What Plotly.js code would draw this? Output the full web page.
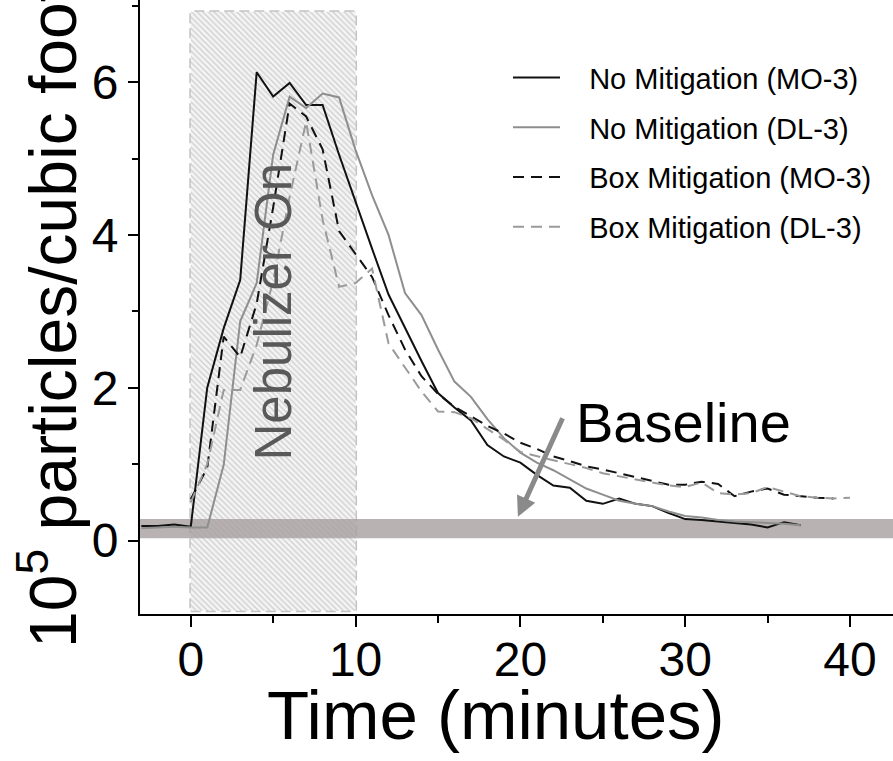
<!DOCTYPE html>
<html>
<head>
<meta charset="utf-8">
<script src="https://cdn.plot.ly/plotly-3.0.1.min.js"></script>
<style>html,body{margin:0;padding:0;background:#fff;}#chart{width:893px;height:761px;}</style>
</head>
<body>
<div id="chart"></div>
<script>
// ---- data ----
const minutesNoMit = [-3,-2,-1,0,1,2,3,4,5,6,7,8,9,10,11,12,13,14,15,16,17,18,19,20,21,22,23,24,25,26,27,28,29,30,31,32,33,34,35,36,37];
const noMitigationMO3 = [0.19,0.19,0.21,0.18,2.0,2.78,3.41,6.13,5.81,5.99,5.70,5.70,5.05,4.42,3.82,3.22,2.78,2.35,1.93,1.74,1.57,1.25,1.10,1.02,0.86,0.72,0.69,0.52,0.48,0.55,0.48,0.45,0.36,0.28,0.27,0.25,0.23,0.21,0.17,0.24,0.20];
const noMitigationDL3 = [0.16,0.17,0.18,0.17,0.17,0.99,2.87,3.37,5.05,5.81,5.66,5.85,5.80,5.11,4.52,4.00,3.24,2.95,2.50,2.08,1.88,1.59,1.34,1.15,1.02,0.92,0.80,0.68,0.60,0.52,0.48,0.45,0.38,0.32,0.30,0.27,0.25,0.24,0.23,0.22,0.20];

const minutesBoxMO = [0,1,2,3,4,5,6,7,8,9,10,11,12,13,14,15,16,17,18,19,20,21,22,23,24,25,26,27,28,29,30,31,32,33,34,35,36,37,38,39];
const boxMitigationMO3 = [0.54,0.95,2.67,2.40,3.10,4.36,5.72,5.55,5.12,4.05,3.75,3.45,2.95,2.50,2.15,1.92,1.75,1.62,1.50,1.40,1.28,1.20,1.10,1.04,0.97,0.93,0.88,0.83,0.77,0.73,0.73,0.77,0.74,0.58,0.64,0.68,0.60,0.58,0.56,0.55];

const minutesBoxDL = [0,1,2,3,4,5,6,7,8,9,10,11,12,13,14,15,16,17,18,19,20,21,22,23,24,25,26,27,28,29,30,31,32,33,34,35,36,37,38,39,40];
const boxMitigationDL3 = [0.50,1.00,1.97,1.97,2.56,3.40,4.50,5.48,4.20,3.32,3.37,3.56,2.58,2.27,1.95,1.69,1.68,1.60,1.46,1.32,1.16,1.10,1.05,1.00,0.95,0.88,0.84,0.80,0.76,0.72,0.70,0.76,0.62,0.60,0.62,0.70,0.64,0.58,0.56,0.55,0.56];

const seriesNames = ['No Mitigation (MO-3)','No Mitigation (DL-3)','Box Mitigation (MO-3)','Box Mitigation (DL-3)'];
const nebulizerOn = [0, 10];          // minutes
const baselineBand = [0.03, 0.28];    // 10^5 particles / ft^3
const xTickVals = [0,10,20,30,40];
const yTickVals = [0,2,4,6];

// ---- styling ----
const FONT = 'Liberation Sans, Arial, Helvetica, sans-serif';
const boxTop = 6.92, boxBottom = -0.92;
const xLo = -3.08, xHi = 42.61;
const PAD = '\u00a0\u00a0\u00a0';   // gap between legend sample and label

const hatch = {
  x: [nebulizerOn[0], nebulizerOn[1], nebulizerOn[1], nebulizerOn[0], nebulizerOn[0]],
  y: [boxBottom, boxBottom, boxTop, boxTop, boxBottom],
  mode: 'lines', fill: 'toself', line: {width: 0, color: 'rgba(0,0,0,0)'},
  fillcolor: '#f3f3f3',
  fillpattern: {shape: '\\', size: 4, solidity: 0.3, fgcolor: '#cdcdcd', bgcolor: '#f4f4f4'},
  hoverinfo: 'skip', showlegend: false
};

const band = {
  x: [xLo, xHi, xHi, xLo, xLo],
  y: [baselineBand[0], baselineBand[0], baselineBand[1], baselineBand[1], baselineBand[0]],
  mode: 'lines', fill: 'toself', line: {width: 0, color: 'rgba(0,0,0,0)'},
  fillcolor: 'rgba(166,159,159,0.8)', hoverinfo: 'skip', showlegend: false
};

const traces = [
  hatch,
  band,
  {x: minutesNoMit, y: noMitigationMO3, name: PAD + seriesNames[0], legendgroup: 'a', mode: 'lines',
   line: {color: '#111111', width: 2}},
  {x: minutesNoMit, y: noMitigationDL3, name: PAD + seriesNames[1], legendgroup: 'b', mode: 'lines',
   line: {color: '#8e8e8e', width: 2}},
  {x: minutesBoxMO, y: boxMitigationMO3, name: PAD + seriesNames[2], legendgroup: 'c', mode: 'lines',
   line: {color: '#111111', width: 2, dash: '11px,7px'}},
  {x: minutesBoxDL, y: boxMitigationDL3, name: PAD + seriesNames[3], legendgroup: 'd', mode: 'lines',
   line: {color: '#9a9a9a', width: 2, dash: '11px,7px'}}
];

const layout = {
  width: 893, height: 761,
  margin: {l: 140, r: 0, t: 0, b: 147, pad: 0},
  paper_bgcolor: '#ffffff', plot_bgcolor: '#ffffff',
  font: {family: FONT, color: '#000'},
  showlegend: true,
  legend: {x: 0.4887, xanchor: 'left', y: 0.915, yanchor: 'top', bgcolor: 'rgba(0,0,0,0)', itemwidth: 47,
           font: {family: FONT, size: 29, color: '#000'}, traceorder: 'grouped', tracegroupgap: 9},
  xaxis: {range: [xLo, xHi], showgrid: false, zeroline: false, showline: true, linecolor: '#000', linewidth: 2,
          ticks: 'outside', ticklen: 11, tickwidth: 2, tickcolor: '#000', tickvals: xTickVals, ticklabelstandoff: -9,
          tickfont: {family: FONT, size: 48, color: '#000'},
          minor: {dtick: 5, ticks: 'outside', ticklen: 7, tickwidth: 2, tickcolor: '#000', showgrid: false}},
  yaxis: {range: [-0.962, 7.075], showgrid: false, zeroline: false, showline: true, linecolor: '#000', linewidth: 2,
          ticks: 'outside', ticklen: 10, tickwidth: 2, tickcolor: '#000', tickvals: yTickVals,
          tickfont: {family: FONT, size: 48, color: '#000'},
          minor: {dtick: 1, ticks: 'outside', ticklen: 6, tickwidth: 2, tickcolor: '#000', showgrid: false}},
  shapes: [
    {type: 'rect', layer: 'below', xref: 'x', yref: 'y', x0: nebulizerOn[0], x1: nebulizerOn[1], y0: boxBottom, y1: boxTop,
     fillcolor: 'rgba(0,0,0,0)', line: {color: '#c4c4c4', width: 3, dash: '10px,5px'}}
  ],
  annotations: [
    {xref: 'paper', yref: 'paper', x: 0.4728, y: -0.166, xanchor: 'center', yanchor: 'middle', showarrow: false,
     text: 'Time (minutes)', font: {family: FONT, size: 69, color: '#000'}},
    {xref: 'paper', yref: 'paper', x: -0.1222, y: -0.0586, xanchor: 'center', yanchor: 'bottom', showarrow: false,
     textangle: -90, text: '10<sup>5</sup> particles/cubic foot', font: {family: FONT, size: 66, color: '#000'}},
    {xref: 'x', yref: 'y', x: 5.0, y: 3.0, showarrow: false, textangle: -90,
     text: 'Nebulizer On', font: {family: FONT, size: 51, color: '#595959'}},
    {xref: 'x', yref: 'y', x: 29.9, y: 1.55, showarrow: false,
     text: 'Baseline', font: {family: FONT, size: 56, color: '#000'}},
    {xref: 'x', yref: 'y', x: 19.85, y: 0.31, axref: 'x', ayref: 'y', ax: 22.6, ay: 1.62, text: '',
     showarrow: true, arrowhead: 2, arrowsize: 0.8, arrowwidth: 5, arrowcolor: '#8a8a8a'}
  ]
};

Plotly.newPlot('chart', traces, layout, {displayModeBar: false, staticPlot: true});
</script>
</body>
</html>
